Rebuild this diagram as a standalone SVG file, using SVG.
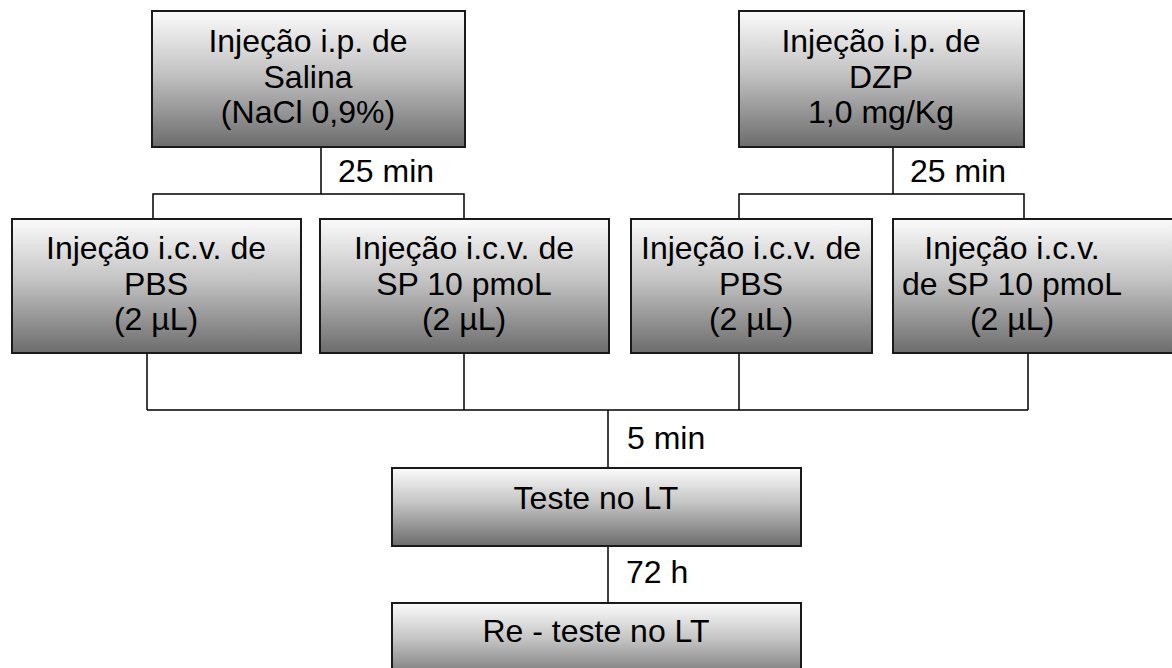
<svg xmlns="http://www.w3.org/2000/svg" width="1172" height="668" viewBox="0 0 1172 668">
<defs>
<linearGradient id="g" x1="0" y1="0" x2="0" y2="1">
<stop offset="0" stop-color="#fbfbfb"/>
<stop offset="0.45" stop-color="#c4c4c4"/>
<stop offset="1" stop-color="#6c6c6c"/>
</linearGradient>
<style>
.box{fill:url(#g);stroke:#1a1a1a;stroke-width:2}
.t{font-family:"Liberation Sans",Arial,sans-serif;font-size:32px;fill:#000;text-anchor:middle}
.l{font-family:"Liberation Sans",Arial,sans-serif;font-size:32px;fill:#000}
.c{fill:none;stroke:#000;stroke-width:1.5}
</style>
</defs>
<rect width="1172" height="668" fill="#fff"/>
<g id="connectors">
<path class="c" d="M321 147V194M153 219V194H464V219"/>
<path class="c" d="M893 147V194M739 219V194H1024V219"/>
<path class="c" d="M147 353V410M464 353V410M739 353V410M1028 353V410M147 410H1028"/>
<path class="c" d="M608 410V468"/>
<path class="c" d="M608 546V603"/>
<text class="l" x="338" y="182">25 min</text>
<text class="l" x="910" y="182">25 min</text>
<text class="l" x="627" y="449">5 min</text>
<text class="l" x="626" y="583">72 h</text>
</g>
<g id="n1">
<rect class="box" x="152" y="11" width="313" height="136"/>
<text class="t" x="308" y="52">Injeção i.p. de</text>
<text class="t" x="308" y="88">Salina</text>
<text class="t" x="308" y="123">(NaCl 0,9%)</text>
</g>
<g id="n2">
<rect class="box" x="739" y="11" width="285" height="136"/>
<text class="t" x="881" y="52">Injeção i.p. de</text>
<text class="t" x="881" y="88">DZP</text>
<text class="t" x="881" y="123">1,0 mg/Kg</text>
</g>
<g id="n3">
<rect class="box" x="12" y="219" width="289" height="134"/>
<text class="t" x="156" y="259">Injeção i.c.v. de</text>
<text class="t" x="156" y="295">PBS</text>
<text class="t" x="156" y="330">(2 µL)</text>
</g>
<g id="n4">
<rect class="box" x="320" y="219" width="289" height="134"/>
<text class="t" x="464" y="259">Injeção i.c.v. de</text>
<text class="t" x="464" y="295">SP 10 pmoL</text>
<text class="t" x="464" y="330">(2 µL)</text>
</g>
<g id="n5">
<rect class="box" x="631" y="219" width="241" height="134"/>
<text class="t" x="751" y="259">Injeção i.c.v. de</text>
<text class="t" x="751" y="295">PBS</text>
<text class="t" x="751" y="330">(2 µL)</text>
</g>
<g id="n6">
<rect class="box" x="893" y="219" width="290" height="134"/>
<text class="t" x="1012" y="259">Injeção i.c.v.</text>
<text class="t" x="1012" y="295">de SP 10 pmoL</text>
<text class="t" x="1012" y="330">(2 µL)</text>
</g>
<g id="n7">
<rect class="box" x="392" y="468" width="409" height="78"/>
<text class="t" x="596" y="509">Teste no LT</text>
</g>
<g id="n8">
<rect class="box" x="392" y="603" width="409" height="80"/>
<text class="t" x="596" y="642">Re - teste no LT</text>
</g>
</svg>
